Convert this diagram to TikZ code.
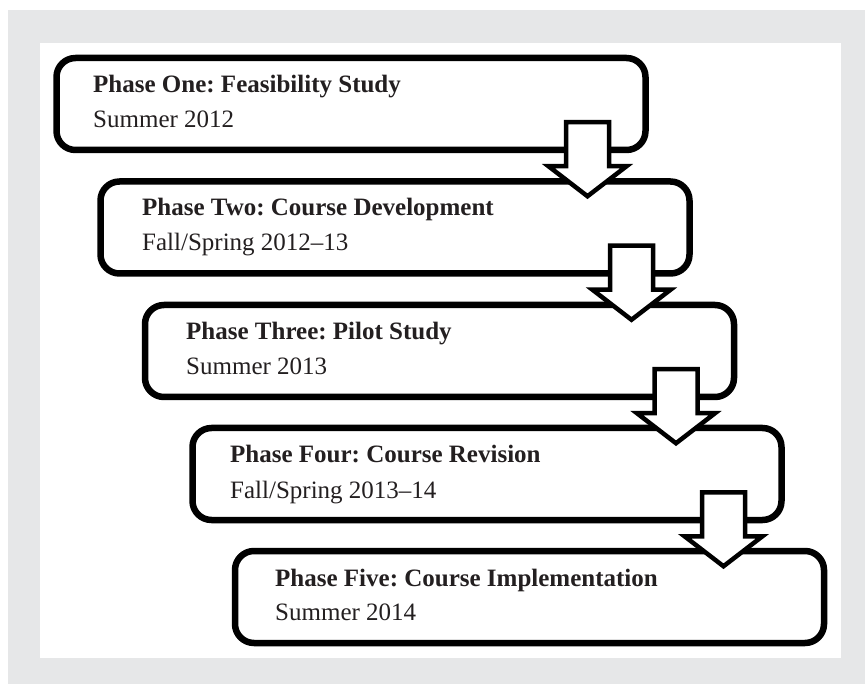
\documentclass[tikz,border=0pt]{standalone}
\usepackage{fontspec}
\setmainfont{Liberation Serif}
\frenchspacing
\usetikzlibrary{calc}
\definecolor{bggray}{HTML}{E6E7E8}
\definecolor{inkc}{HTML}{231F20}
\tikzset{
  phasebox/.style={draw=black, line width=6.5pt, rounded corners=19pt, fill=white,
    minimum width=589pt, minimum height=92pt, inner sep=0pt, outer sep=0pt},
  titletext/.style={anchor=base west, inner sep=0pt, text=inkc,
    font=\fontsize{25}{29}\selectfont\bfseries},
  datetext/.style={anchor=base west, inner sep=0pt, text=inkc,
    font=\fontsize{25}{29}\selectfont},
  blockarrow/.style={draw=black, fill=white, line width=4.5pt, miter limit=10}
}
\begin{document}
\begin{tikzpicture}[x=1pt,y=-1pt]
\useasboundingbox (0,0) rectangle (865,684);
\fill[white] (0,0) rectangle (865,684);
\fill[bggray] (8,10) rectangle (865,684);
\fill[white] (40,43) rectangle (841,658);

% boxes
\node[phasebox] (b1) at (351,104) {};
\node[phasebox] (b2) at (395,227.5) {};
\node[phasebox] (b3) at (439.5,351) {};
\node[phasebox] (b4) at (487,474) {};
\node[phasebox] (b5) at (529.5,597) {};

% texts
\node[titletext] (t1) at (93,93) {Phase One: Feasibility Study};
\node[datetext]  (d1) at (93,128) {Summer 2012};
\node[titletext] (t2) at (142,216) {Phase Two: Course Development};
\node[datetext]  (d2) at (142,251) {Fall/Spring 2012–13};
\node[titletext] (t3) at (186,340) {Phase Three: Pilot Study};
\node[datetext]  (d3) at (186,375) {Summer 2013};
\node[titletext] (t4) at (230,463) {Phase Four: Course Revision};
\node[datetext]  (d4) at (230,498) {Fall/Spring 2013–14};
\node[titletext] (t5) at (275,586) {Phase Five: Course Implementation};
\node[datetext]  (d5) at (275,620) {Summer 2014};

% block arrows
\foreach \i in {1,2,3,4}{
  \path (b\i.south east) ++(-58,3.25) coordinate (r\i);
  \draw[blockarrow] (r\i) ++(-21.5,-31) -- ++(43,0) -- ++(0,44) -- ++(17.5,0)
     -- ++(-39,30) -- ++(-39,-30) -- ++(17.5,0) -- cycle;
}
\end{tikzpicture}
\end{document}
